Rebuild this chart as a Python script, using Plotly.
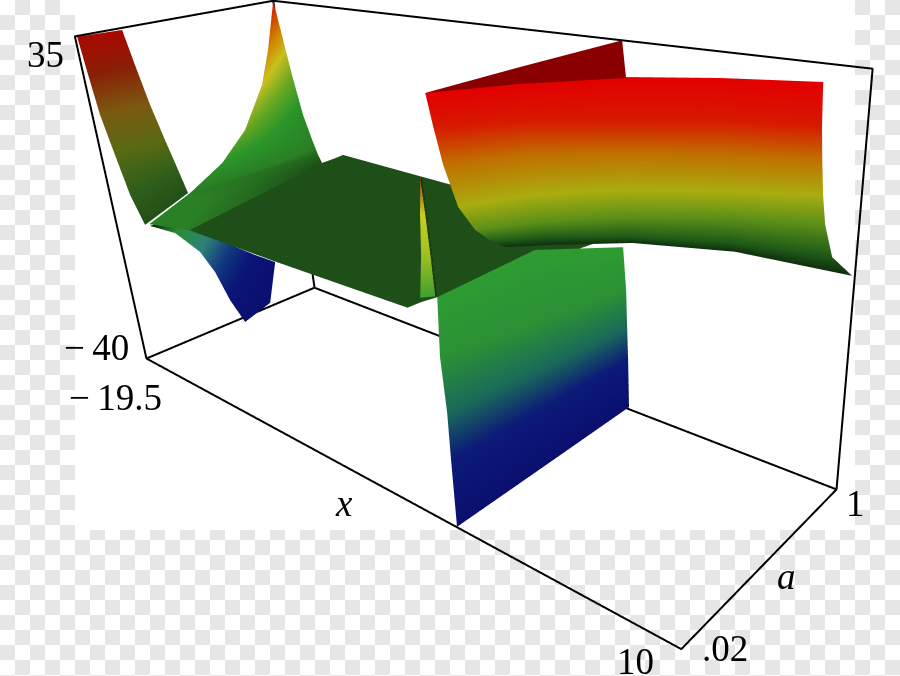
import plotly.graph_objects as go

# axis ranges and tick text of the Maple style box
x_rng = [-19.5, 10]
a_rng = [0.02, 1]
z_rng = [-40, 35]
PAD = 0.005

# big red sheet on the right
big_x = [[0.45, 2.06, 4.18, 6.80, 9.54], [-0.96, 1.00, 3.63, 6.26, 9.05], [-1.09, 0.59, 3.07, 5.87, 8.70],
         [-0.64, 0.70, 2.93, 5.75, 8.73], [-0.93, 0.41, 2.62, 5.46, 8.87], [-1.44, -0.13, 2.31, 5.47, 9.19],
         [-1.41, -0.19, 2.12, 5.63, 9.91]]
big_a = [[0.093, 0.330, 0.543, 0.678, 0.779], [0.243, 0.461, 0.624, 0.786, 0.892], [0.284, 0.523, 0.709, 0.863, 0.983],
         [0.293, 0.526, 0.736, 0.901, 1.0], [0.392, 0.577, 0.787, 0.969, 1.0], [0.523, 0.661, 0.841, 0.992, 1.0],
         [0.585, 0.694, 0.879, 1.0, 1.0]]
big_z = [[35, 35, 35, 35, 35], [27, 27, 27, 27, 27], [20, 20, 20, 20, 20], [13, 13, 13, 13, 13.9],
         [7, 7, 7, 7, 9.0], [2, 2, 2, 2, 3.7], [0, 0, 0, 0.4, 1.3]]
big_c = [[35] * 5, [27] * 5, [20] * 5, [13] * 5, [7] * 5, [2] * 5, [0] * 5]

# dark red piece behind the sheet
tri_x = [[0.45, 0.58, 0.88], [0.45, 2.14, 4.41]]
tri_a = [[0.093, 0.497, 1.0], [0.093, 0.321, 0.541]]
tri_z = [[35, 35, 35], [35, 35, 35]]

# wall falling to -40
wall_x = [[0.90, 0.90, 0.90], [0.84, 0.90, 0.93], [0.90, 0.90, 0.96], [0.90, 0.90, 0.99], [0.90, 0.90, 1.01]]
wall_a = [[0.026, 0.489, 0.988], [0.02, 0.481, 1.0], [0.023, 0.474, 1.0], [0.021, 0.474, 1.0], [0.02, 0.475, 1.0]]
wall_z = [[3.7, 3.8, -4.1], [-6.8, -10, -13.3], [-17.2, -19.3, -21.3], [-26.3, -27.6, -28.6], [-39.9, -40, -39.5]]
wall_c = [[-2] * 3, [-8] * 3, [-16] * 3, [-25] * 3, [-40] * 3]

# dark green middle part
flat_x = [[-13.3, -12.74, -7.47, -0.67, -0.78, -0.54], [-17.38, -16.46, -15.64, -0.76, 0.21, 1.01]]
flat_a = [[0.02, 0.02, 0.02, 0.035, 0.105, 0.192], [1, 1, 1, 1, 1, 1]]
flat_z = [[-0.85, -0.8, -0.6, -0.5, -1, -1], [-3.4, -1.6, 0.1, -1.2, -1.1, -1.1]]

# thin spike next to the wall
sliv_x = [[0.70, 0.74], [0.54, 0.81], [0.41, 0.87], [0.17, 0.92]]
sliv_a = [[0.02, 0.02], [0.02, 0.02], [0.02, 0.02], [0.02, 0.02]]
sliv_z = [[23.1, 23.1], [17.1, 17.4], [10.3, 10.9], [2.7, 4.0]]
sliv_c = [[23, 23], [17, 17], [10, 10], [3, 3]]

# red piece at the far left
red_x = [[-19.31, -19.00], [-19.31, -19.36], [-18.80, -17.65], [-18.31, -17.58], [-17.66, -18.07], [-16.89, -17.07]]
red_a = [[0.020, 0.201], [0.031, 0.245], [0.020, 0.188], [0.020, 0.220], [0.020, 0.280], [0.020, 0.251]]
red_z = [[35, 35], [27, 27], [19, 20], [11.7, 12], [2.4, 4], [-3.6, 0]]
red_c = [[35, 35], [27, 27], [20, 20], [12, 12], [4, 4], [0, 0]]

# green spike into the back corner
grn_x = [[-19.5, -19.5], [-16.73, -18.11], [-14.93, -15.38], [-13.92, -13.78], [-14.87, -14.38], [-15.87, -15.62],
         [-16.5, -15.53], [-13.3, -15.53]]
grn_a = [[1, 1], [0.743, 0.927], [0.565, 0.756], [0.384, 0.671], [0.310, 0.744], [0.195, 0.855], [0.02, 0.865], [0.02, 0.865]]
grn_z = [[35, 35], [27, 27], [22, 22], [15, 15], [8, 8], [2, 2], [-3, 0], [-0.85, 0]]
grn_c = [[35, 35], [27, 25], [22, 15], [15, 5], [8, 3], [2, 1], [3, 0], [2, 0]]

# blue piece under the left end
blu_x = [[-19.4, -19.4], [-19.4, -19.4], [-19.4, -19.4], [-19.4, -19.4], [-19.4, -19.4], [-19.0, -19.4]]
blu_a = [[0.165, 0.353], [0.278, 0.386], [0.383, 0.521], [0.441, 0.673], [0.493, 0.780], [0.530, 0.713]]
blu_z = [[-8.9, -9.1], [-12.5, -14.2], [-19, -19], [-25.3, -24.8], [-33.8, -28.6], [-40, -38.8]]
blu_c = [[0, 8], [8, 14], [18, 24], [26, 36], [36, 40], [40, 40]]

big_scale = [(0, "#10300e"), (2, "#1f5a18"), (7, "#5c9018"), (13, "#a9ad10"), (20, "#c07000"), (27, "#d81800"), (35, "#e20000")]
wall_scale = [(-40, "#0a0f6e"), (-25, "#0c1a78"), (-16, "#1a6a5a"), (-8, "#2a9135"), (-2, "#2e9c32")]
red_scale = [(0, "#235018"), (4, "#2e5e1a"), (12, "#5a6a14"), (20, "#7a5a10"), (27, "#8a1f06"), (35, "#a80800")]
grn_scale = [(0, "#1d4f18"), (2, "#2a7f24"), (8, "#2a962a"), (15, "#6aa822"), (22, "#c8c020"), (27, "#d08a00"), (35, "#d01000")]
blu_scale = [(0, "#0c1a0c"), (4, "#1e5a22"), (8, "#2a8a30"), (12, "#2a8a50"), (18, "#2f7f78"), (26, "#123c80"), (34, "#0b1678"), (40, "#0a1070")]
sliv_scale = [(3, "#40a030"), (10, "#a0c020"), (17, "#c8d020"), (23, "#a04010")]
FLAT_GREEN = "#1f4f18"
TRI_RED = "#8a0000"

# page size and shift that put the perspective centre where the box needs it
FIG_W, FIG_H, TOP = 1067, 852, -153


def px(x):
    return x / FIG_W


def py(y):
    return 1 - (y - TOP) / FIG_H


def padded(r):
    d = (r[1] - r[0]) * PAD
    return [r[0] - d, r[1] + d]


def norm_scale(stops):
    lo, hi = stops[0][0], stops[-1][0]
    return [[(v - lo) / (hi - lo), c] for v, c in stops]


def add_sheet(fig, x, a, z, c, stops):
    flat_light = dict(ambient=1, diffuse=0, specular=0, fresnel=0, roughness=1)
    fig.add_trace(go.Surface(
        x=x, y=a, z=z, surfacecolor=c, colorscale=norm_scale(stops),
        cmin=stops[0][0], cmax=stops[-1][0], showscale=False, lighting=flat_light,
        hoverinfo="skip",
    ))


def one_colour(z):
    return [[0] * len(row) for row in z]


def checker_path():
    # transparency checker of the source image, 15 px squares outside a white block
    parts = []
    for row in range(46):
        for col in range(60):
            if (row + col) % 2 == 0:
                continue
            x0, y0 = col * 15, row * 15
            x1, y1 = x0 + 15, y0 + 15
            if 75 <= x0 < 855:
                if y1 <= 530:
                    continue
                y0 = max(y0, 530)
            parts.append(f"M{px(x0):.5f},{py(y0):.5f}L{px(x1):.5f},{py(y0):.5f}L{px(x1):.5f},{py(y1):.5f}L{px(x0):.5f},{py(y1):.5f}Z")
    return "".join(parts)


fig = go.Figure()
add_sheet(fig, flat_x, flat_a, flat_z, one_colour(flat_z), [(0, FLAT_GREEN), (1, FLAT_GREEN)])
add_sheet(fig, tri_x, tri_a, tri_z, one_colour(tri_z), [(0, TRI_RED), (1, TRI_RED)])
add_sheet(fig, wall_x, wall_a, wall_z, wall_c, wall_scale)
add_sheet(fig, blu_x, blu_a, blu_z, blu_c, blu_scale)
add_sheet(fig, red_x, red_a, red_z, red_c, red_scale)
add_sheet(fig, grn_x, grn_a, grn_z, grn_c, grn_scale)
add_sheet(fig, sliv_x, sliv_a, sliv_z, sliv_c, sliv_scale)
add_sheet(fig, big_x, big_a, big_z, big_c, big_scale)

# dark crease along the right side of the spike
fig.add_trace(go.Scatter3d(
    x=[row[1] for row in sliv_x], y=[row[1] for row in sliv_a], z=[row[1] for row in sliv_z],
    mode="lines", line=dict(color="#0c2a0c", width=3), showlegend=False, hoverinfo="skip",
))

# open box: floor, left wall and back wall
X = [0, 1, 1, 0, 0, 0, 0, 0, 0, 1, 1]
Y = [0, 0, 1, 1, 0, 0, 1, 1, 1, 1, 1]
Z = [0, 0, 0, 0, 0, 1, 1, 0, 1, 1, 0]
fig.add_trace(go.Scatter3d(
    x=[x_rng[i] for i in X], y=[a_rng[i] for i in Y], z=[z_rng[i] for i in Z],
    mode="lines", line=dict(color="black", width=4), showlegend=False, hoverinfo="skip",
))

SERIF = "Liberation Serif"
labels = [
    ("35", 45, 55, "center", SERIF),
    ("\u2212\u200940", 131, 347, "right", SERIF),
    ("\u2212\u200919.5", 164, 397, "right", SERIF),
    ("<i>x</i>", 344, 503, "center", SERIF),
    ("<i>a</i>", 786, 576, "center", SERIF),
    ("1", 855, 503, "center", SERIF),
    (".02", 725, 648, "center", SERIF),
    ("10", 635, 661, "center", SERIF),
]
annotations = [
    dict(text=t, x=px(x), y=py(y), xref="paper", yref="paper", xanchor=anc, yanchor="middle",
         showarrow=False, font=dict(family=fam, size=37, color="#000000"))
    for t, x, y, anc, fam in labels
]

fig.update_layout(
    width=FIG_W, height=FIG_H, margin=dict(l=0, r=0, t=0, b=0),
    paper_bgcolor="white", showlegend=False, annotations=annotations,
    shapes=[dict(type="path", xref="paper", yref="paper", path=checker_path(), layer="below",
                 fillcolor="#e6e6e6", line=dict(width=0))],
    scene=dict(
        xaxis=dict(range=padded(x_rng), visible=False),
        yaxis=dict(range=padded(a_rng), visible=False),
        zaxis=dict(range=padded(z_rng), visible=False),
        aspectmode="manual", aspectratio=dict(x=1, y=0.3294, z=0.5025),
        camera=dict(eye=dict(x=0.9154, y=-0.8085, z=0.4835), center=dict(x=0.2052, y=-0.0286, z=0.0249),
                    up=dict(x=-0.1172, y=0.2041, z=1)),
    ),
)
fig.write_html("out.html", post_script=f"document.documentElement.style.overflow='hidden';document.body.style.margin='{TOP}px 0 0 0';")
